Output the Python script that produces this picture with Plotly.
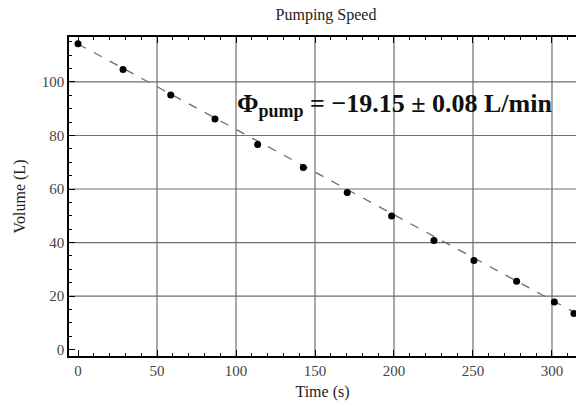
import plotly.graph_objects as go

# Measured drain data
time_s = [0, 28.5, 58.7, 86.7, 113.7, 142.6, 170.4, 198.5, 225.3, 250.6, 277.6, 301.5, 313.9]
volume_L = [114.3, 104.7, 95.1, 86.2, 76.6, 68.0, 58.7, 49.9, 40.8, 33.3, 25.5, 17.8, 13.5]

# Fit result (L/min) and intercept (L)
rate_L_per_min = -19.15
rate_err = 0.08
intercept_L = 114.2

fit_t = [0, 320]
fit_v = [intercept_L + rate_L_per_min / 60.0 * t for t in fit_t]

grid_x = [50, 100, 150, 200, 250, 300]
grid_y = [20, 40, 60, 80, 100]

serif = "Liberation Serif, Times New Roman, serif"

fig = go.Figure()
fig.add_trace(go.Scatter(
    x=fit_t, y=fit_v, mode="lines",
    line=dict(color="#6a6a8a", width=1.3, dash="dash"),
    showlegend=False, hoverinfo="skip",
))
fig.add_trace(go.Scatter(
    x=time_s, y=volume_L, mode="markers",
    marker=dict(color="black", size=7),
    showlegend=False,
))

shapes = []
for gx in grid_x:
    shapes.append(dict(type="line", xref="x", yref="paper", x0=gx, x1=gx, y0=0, y1=1,
                       line=dict(color="#6e6e6e", width=1.2), layer="below"))
for gy in grid_y:
    shapes.append(dict(type="line", xref="paper", yref="y", x0=0, x1=1, y0=gy, y1=gy,
                       line=dict(color="#6e6e6e", width=1.2), layer="below"))

label = (f"<b>Φ<sub><span style='font-size:18px'>pump</span></sub> = "
         f"−{abs(rate_L_per_min):.2f} ± {rate_err:.2f} L/min</b>")

fig.update_layout(
    width=576, height=406,
    margin=dict(l=69, r=0, t=37, b=50),
    paper_bgcolor="white", plot_bgcolor="white",
    font=dict(family=serif, size=15, color="#333"),
    title=dict(text="Pumping Speed", x=0.566, xanchor="center", y=0.978, yanchor="top",
               font=dict(family=serif, size=16, color="#222")),
    shapes=shapes,
    annotations=[dict(
        x=99.5, y=91.5, xref="x", yref="y", xanchor="left", yanchor="middle",
        text=label,
        showarrow=False, font=dict(family=serif, size=26, color="#111"),
    )],
)

fig.update_xaxes(
    range=[-5.7, 315.2], showgrid=False, zeroline=False,
    tickvals=[0, 50, 100, 150, 200, 250, 300],
    ticks="inside", ticklen=6, tickwidth=1.2, tickcolor="black",
    minor=dict(dtick=10, tick0=0, ticks="inside", ticklen=3, tickcolor="black"),
    showline=True, linecolor="black", linewidth=1.5, mirror="allticks",
    tickfont=dict(family=serif, size=15, color="#444"),
    title=dict(text="Time (s)", font=dict(family=serif, size=16, color="#222"), standoff=8),
)
fig.update_yaxes(
    range=[-2.4, 116.8], showgrid=False, zeroline=False,
    tickvals=[0, 20, 40, 60, 80, 100],
    ticks="inside", ticklen=6, tickwidth=1.2, tickcolor="black",
    minor=dict(dtick=5, tick0=0, ticks="inside", ticklen=3, tickcolor="black"),
    showline=True, linecolor="black", linewidth=1.5,
    tickfont=dict(family=serif, size=15, color="#444"),
    title=dict(text="Volume (L)", font=dict(family=serif, size=16, color="#222"), standoff=12),
)

fig.write_html("out.html")
